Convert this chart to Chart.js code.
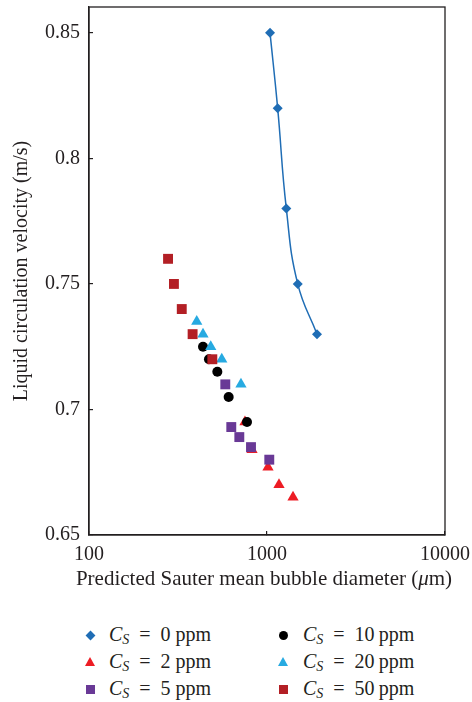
<!DOCTYPE html>
<html>
<head>
<meta charset="utf-8">
<script src="https://cdn.jsdelivr.net/npm/chart.js@4/dist/chart.umd.min.js"></script>
<style>
  body { margin: 0; background: #fff; }
  #wrap { position: relative; width: 472px; height: 702px; font-family: 'Liberation Serif', 'DejaVu Serif', serif; color: #231f20; }
  #chart { position: absolute; left: 0; top: 0; }
  #xtitle { position: absolute; left: 0; width: 528px; top: 566px; line-height: 24px; text-align: center; font-size: 21px; }
  .item { position: absolute; font-size: 20px; line-height: 22px; white-space: nowrap; }
  .item sub { font-size: 14px; vertical-align: -3px; line-height: 0; }
  .mk { position: absolute; }
</style>
</head>
<body>
<div id="wrap">
  <canvas id="chart" width="472" height="600"></canvas>
  <div id="xtitle">Predicted Sauter mean bubble diameter (<i>μ</i>m)</div>
  <div id="legend"></div>
</div>
<script>
// surfactant concentration of each series (ppm)
const concentrations = [0, 2, 5, 10, 20, 50];

// Sauter mean bubble diameter (um) and liquid circulation velocity (m/s)
const diam0 = [1040, 1148, 1284, 1488, 1910];
const vel0 = [0.85, 0.82, 0.78, 0.75, 0.73];

const diam2 = [752, 824, 1013, 1168, 1400];
const vel2 = [0.695, 0.684, 0.677, 0.67, 0.665];

const diam5 = [583, 630, 699, 813, 1030];
const vel5 = [0.71, 0.693, 0.689, 0.685, 0.68];

const diam10 = [437, 472, 526, 609, 772];
const vel10 = [0.725, 0.72, 0.715, 0.705, 0.695];

const diam20 = [403, 437, 483, 557, 714];
const vel20 = [0.735, 0.73, 0.725, 0.72, 0.71];

const diam50 = [278, 300, 332, 382, 493];
const vel50 = [0.76, 0.75, 0.74, 0.73, 0.72];

const xTicks = [100, 1000, 10000];
const yTicks = [0.65, 0.7, 0.75, 0.8, 0.85];

const diams = [diam0, diam2, diam5, diam10, diam20, diam50];
const vels = [vel0, vel2, vel5, vel10, vel20, vel50];
const colors = ['#1f6db5', '#ed1c24', '#693996', '#000000', '#27aae1', '#b31f25'];
const shapes = ['rectRot', 'triangle', 'rect', 'circle', 'triangle', 'rect'];
const radii = [5, 6.5, 7, 5, 6.5, 7];

const INK = '#231f20';
const FONT = "'Liberation Serif', 'DejaVu Serif', serif";

const datasets = concentrations.map((c, i) => ({
  label: 'CS = ' + c + ' ppm',
  data: diams[i].map((d, j) => ({ x: d, y: vels[i][j] })),
  pointStyle: shapes[i],
  pointRadius: radii[i],
  pointHoverRadius: radii[i],
  pointBackgroundColor: colors[i],
  pointBorderColor: colors[i],
  pointBorderWidth: 0,
  borderColor: colors[i],
  borderWidth: 1.5,
  showLine: i === 0,
  tension: 0.45,
  order: concentrations.length - i
}));

// closed frame round the plot area
const frame = {
  id: 'frame',
  beforeDatasetsDraw(chart) {
    const a = chart.chartArea, ctx = chart.ctx;
    ctx.save();
    ctx.strokeStyle = INK;
    ctx.lineWidth = 1.3;
    ctx.strokeRect(a.left, a.top, a.right - a.left, a.bottom - a.top);
    ctx.restore();
  }
};

new Chart(document.getElementById('chart'), {
  type: 'scatter',
  data: { datasets },
  options: {
    responsive: false,
    animation: false,
    layout: { padding: { top: 6, right: 27, left: 0, bottom: 0 } },
    plugins: { legend: { display: false }, tooltip: { enabled: false } },
    scales: {
      x: {
        type: 'logarithmic',
        min: 100,
        max: 10000,
        afterBuildTicks: s => { s.ticks = xTicks.map(v => ({ value: v })); },
        afterFit: s => { s.height = 65; s.paddingLeft = 0; s.paddingRight = 0; },
        ticks: {
          color: INK,
          padding: 12,
          maxRotation: 0,
          font: { family: FONT, size: 20 },
          callback: v => String(v)
        },
        grid: { drawOnChartArea: false, tickLength: -4, color: INK, lineWidth: 1.2 },
        border: { color: INK, width: 1.3 }
      },
      y: {
        min: 0.65,
        max: 0.8603,
        afterBuildTicks: s => { s.ticks = yTicks.map(v => ({ value: v })); },
        afterFit: s => { s.width = 89; s.paddingTop = 0; s.paddingBottom = 0; },
        ticks: {
          color: INK,
          padding: 13,
          font: { family: FONT, size: 20 },
          callback: v => String(+v.toFixed(2))
        },
        grid: { drawOnChartArea: false, tickLength: -4, color: INK, lineWidth: 1.2 },
        border: { color: INK, width: 1.3 },
        title: {
          display: true,
          text: 'Liquid circulation velocity (m/s)',
          color: INK,
          font: { family: FONT, size: 20 },
          padding: { top: 10, bottom: 0 }
        }
      }
    }
  },
  plugins: [frame]
});

// legend in two columns below the chart
const legend = document.getElementById('legend');
concentrations.forEach((c, i) => {
  const col = Math.floor(i / 3), row = i % 3;
  const cy = 635 + row * 27;
  const mx = col ? 283 : 90;
  const item = document.createElement('div');
  item.className = 'item';
  item.style.left = (col ? 303 : 109) + 'px';
  item.style.top = (cy - 12) + 'px';
  item.innerHTML = '<i>C</i><sub><i>S</i></sub>\u2002=\u2002' + c + (col ? '\u2009' : ' ') + 'ppm';
  legend.appendChild(item);

  const mk = document.createElement('div');
  mk.className = 'mk';
  const shape = shapes[i];
  if (shape === 'triangle') {
    mk.style.cssText = `left:${mx - 5}px;top:${cy - 5}px;width:0;height:0;border-left:5px solid transparent;border-right:5px solid transparent;border-bottom:9px solid ${colors[i]};`;
  } else if (shape === 'rectRot') {
    mk.style.cssText = `left:${mx - 3.5}px;top:${cy - 3.5}px;width:7px;height:7px;background:${colors[i]};transform:rotate(45deg);`;
  } else if (shape === 'circle') {
    mk.style.cssText = `left:${mx - 4.5}px;top:${cy - 4.5}px;width:9px;height:9px;border-radius:50%;background:${colors[i]};`;
  } else {
    mk.style.cssText = `left:${mx - 4.5}px;top:${cy - 4.5}px;width:9px;height:9px;background:${colors[i]};`;
  }
  legend.appendChild(mk);
});
</script>
</body>
</html>
